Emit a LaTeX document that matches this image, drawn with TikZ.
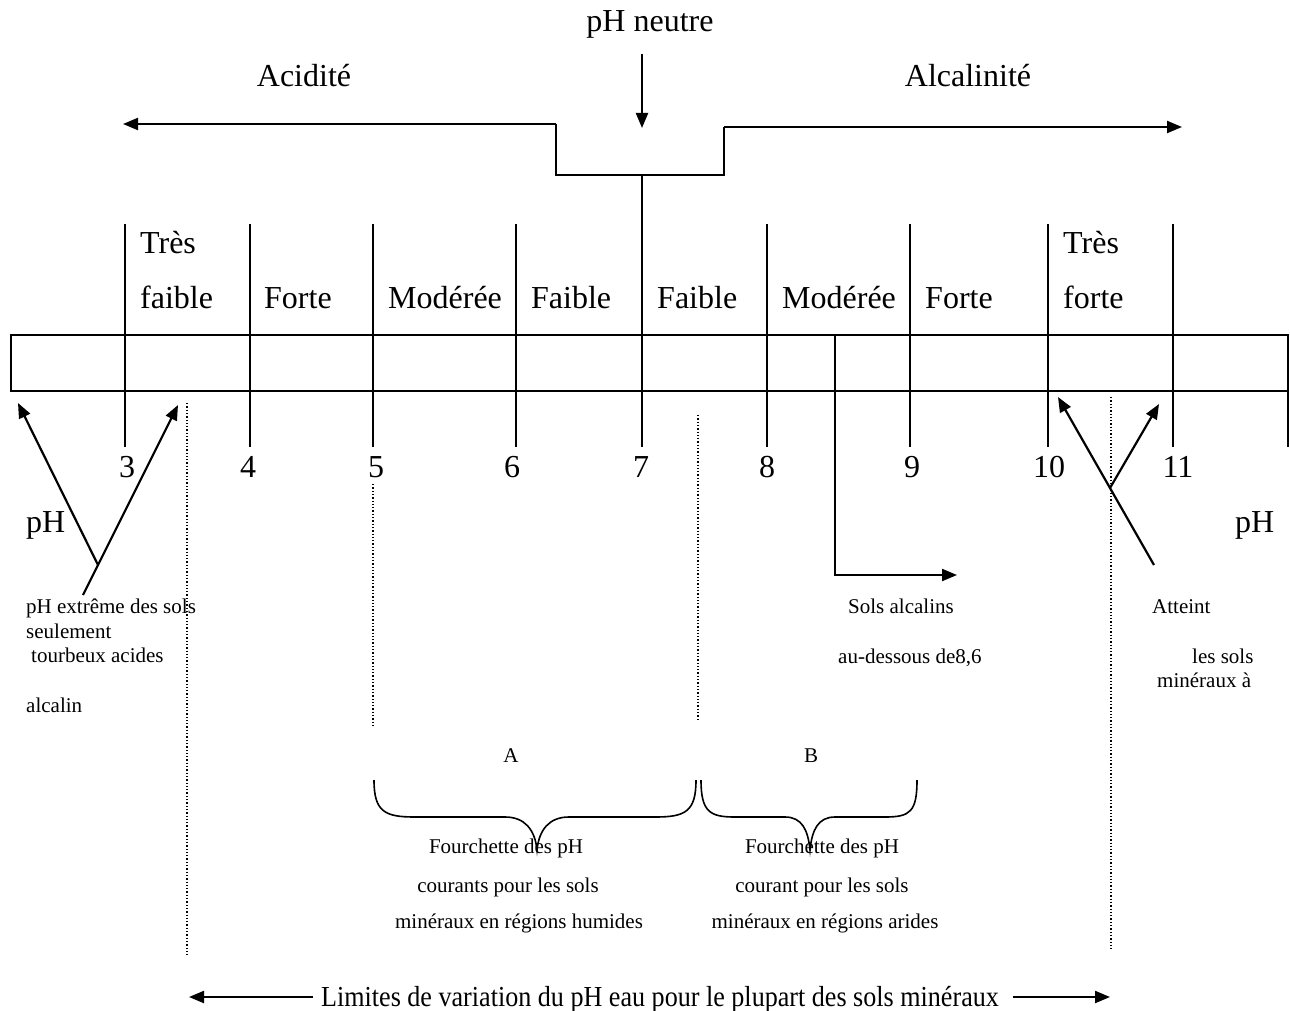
\documentclass[tikz,border=0pt]{standalone}
\usepackage{fontspec}
\setmainfont{Liberation Serif}
\usetikzlibrary{arrows.meta}
\begin{document}
\begin{tikzpicture}[x=1pt,y=-1pt,
  big/.style={font=\fontsize{32}{38}\selectfont, inner sep=0pt},
  small/.style={font=\fontsize{21}{25}\selectfont, inner sep=0pt},
  main/.style={line width=2.2pt},
  tipped/.style={-{Triangle[length=15pt,width=12pt]}},
  dotline/.style={line width=1.3pt, dotted},
  bracestyle/.style={line width=1.6pt}]
\useasboundingbox (0,0) rectangle (1290,1011);

% top
\node[big, anchor=base] (neutre) at (650,32) {pH neutre};
\node[big, anchor=base] (acid) at (304,87) {Acidité};
\node[big, anchor=base] (alca) at (968,87) {Alcalinité};
\coordinate (nb) at (642,54);
\coordinate (nt) at (642,128);
\draw[main, tipped] (nb) -- (nt);

\coordinate (bl) at (556,124);
\coordinate (bla) at (123,124);
\coordinate (bbl) at (556,175);
\coordinate (bbr) at (724,175);
\coordinate (br) at (724,127);
\coordinate (bra) at (1182,127);
\coordinate (bm) at (642,175);
\coordinate (bmd) at (642,225);
\draw[main, tipped] (bl) -- (bla);
\draw[main] (bl) -- (bbl) -- (bbr) -- (br);
\draw[main, tipped] (br) -- (bra);
\draw[main] (bm) -- (bmd);

% scale
\coordinate (r1) at (11,335);
\coordinate (r2) at (1288,391);
\draw[main] (r1) rectangle (r2);
\coordinate (re) at (1288,447);
\draw[main] (r2) -- (re);
\foreach \x in {125,250,373,516,642,767,910,1048,1173} {
  \draw[main] (\x,224) -- (\x,447);
}
\node[big, anchor=base west] (t1a) at (140,253) {Très};
\node[big, anchor=base west] (t1b) at (140,308) {faible};
\node[big, anchor=base west] (t2) at (264,308) {Forte};
\node[big, anchor=base west] (t3) at (388,308) {Modérée};
\node[big, anchor=base west] (t4) at (531,308) {Faible};
\node[big, anchor=base west] (t5) at (657,308) {Faible};
\node[big, anchor=base west] (t6) at (782,308) {Modérée};
\node[big, anchor=base west] (t7) at (925,308) {Forte};
\node[big, anchor=base west] (t8a) at (1063,253) {Très};
\node[big, anchor=base west] (t8b) at (1063,308) {forte};

\foreach \x/\n in {127/3,248/4,376/5,512/6,641/7,767/8,912/9,1049/10,1178/11} {
  \node[big, anchor=base] (n\n) at (\x,477) {\n};
}
\node[big, anchor=base west] (phl) at (26,532) {pH};
\node[big, anchor=base west] (phr) at (1235,532) {pH};

% left arrows
\coordinate (la1) at (18,403);
\coordinate (lj) at (98,565);
\coordinate (lt) at (83,595);
\coordinate (la2) at (178,405);
\draw[main, tipped] (lj) -- (la1);
\draw[main, tipped] (lt) -- (la2);

% right arrows
\coordinate (ra1) at (1058,397);
\coordinate (rt) at (1154,565);
\coordinate (rj) at (1110,488);
\coordinate (ra2) at (1159,404);
\draw[main, tipped] (rt) -- (ra1);
\draw[main, tipped] (rj) -- (ra2);

% sols alcalins arrow
\coordinate (s0) at (835,335);
\coordinate (s1) at (835,575);
\coordinate (s2) at (957,575);
\draw[main, tipped] (s0) -- (s1) -- (s2);

% dotted lines
\draw[dotline] (187,403) -- (187,955);
\draw[dotline] (373,484) -- (373,725);
\draw[dotline] (698,415) -- (698,720);
\draw[dotline] (1111,397) -- (1111,950);

% small texts
\node[small, anchor=base west] (x1) at (26,613) {pH extrême des sols};
\node[small, anchor=base west] (x2) at (26,638) {seulement};
\node[small, anchor=base west] (x3) at (31,662) {tourbeux acides};
\node[small, anchor=base west] (x4) at (26,712) {alcalin};
\node[small, anchor=base west] (y1) at (848,613) {Sols alcalins};
\node[small, anchor=base west] (y2) at (838,663) {au-dessous de8,6};
\node[small, anchor=base west] (z1) at (1152,613) {Atteint};
\node[small, anchor=base west] (z2) at (1192,663) {les sols};
\node[small, anchor=base west] (z3) at (1157,687) {minéraux à};

% braces
\node[small, anchor=base] (labA) at (511,762) {A};
\node[small, anchor=base] (labB) at (811,762) {B};
\draw[bracestyle] (374,780) .. controls (374,812) and (385,817) .. (415,817)
  -- (505,817) .. controls (525,817) and (535,830) .. (537,850)
  .. controls (539,830) and (549,817) .. (569,817)
  -- (655,817) .. controls (685,817) and (696,812) .. (696,780);
\draw[bracestyle] (701,780) .. controls (701,812) and (710,817) .. (735,817)
  -- (785,817) .. controls (802,817) and (808,830) .. (810,850)
  .. controls (812,830) and (818,817) .. (835,817)
  -- (885,817) .. controls (910,817) and (917,812) .. (917,780);

\node[small, anchor=base] (fa1) at (506,853) {Fourchette des pH};
\node[small, anchor=base] (fa2) at (508,892) {courants pour les sols};
\node[small, anchor=base] (fa3) at (519,928) {minéraux en régions humides};
\node[small, anchor=base] (fb1) at (822,853) {Fourchette des pH};
\node[small, anchor=base] (fb2) at (822,892) {courant pour les sols};
\node[small, anchor=base] (fb3) at (825,928) {minéraux en régions arides};

% bottom
\node[inner sep=0pt, anchor=base, font=\fontsize{29}{34}\selectfont] (lim) at (660,1006)
  {\scalebox{0.9}[1]{Limites de variation du pH eau pour le plupart des sols minéraux}};
\coordinate (lw) at (313,997);
\coordinate (lwa) at (189,997);
\coordinate (le) at (1013,997);
\coordinate (lea) at (1110,997);
\draw[main, tipped] (lw) -- (lwa);
\draw[main, tipped] (le) -- (lea);
\end{tikzpicture}
\end{document}
